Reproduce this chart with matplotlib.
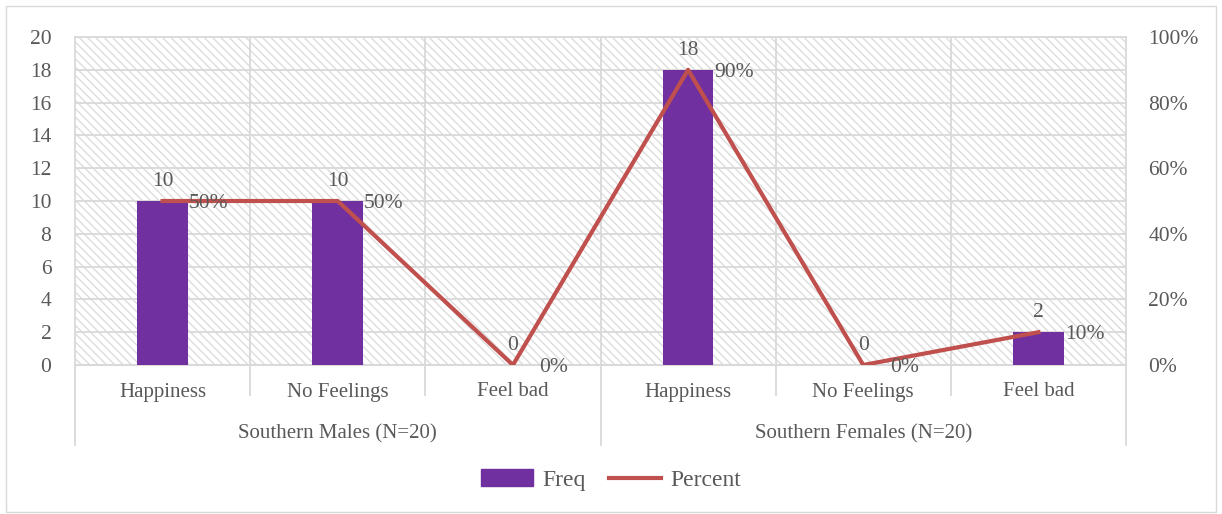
import matplotlib
matplotlib.use('Agg')
import matplotlib.pyplot as plt
import numpy as np
from matplotlib.patches import Rectangle
from matplotlib.lines import Line2D

# data
categories = ['Happiness', 'No Feelings', 'Feel bad', 'Happiness', 'No Feelings', 'Feel bad']
groups = ['Southern Males (N=20)', 'Southern Females (N=20)']
freq = [10, 10, 0, 18, 0, 2]
percent = [50, 50, 0, 90, 0, 10]

bar_color = '#7030A0'
line_color = '#C0504D'
txt = '#595959'
grid = '#d9d9d9'
fs = 15.5

plt.rcParams['font.family'] = ['Liberation Serif', 'DejaVu Serif']
plt.rcParams['hatch.linewidth'] = 1.0
plt.rcParams['hatch.color'] = '#dcdcdc'

fig = plt.figure(figsize=(12.22, 5.14), dpi=100)
fig.patches.append(Rectangle((0.005, 0.004), 0.99, 0.985, transform=fig.transFigure,
                             fill=False, edgecolor=grid, linewidth=1))
ax = fig.add_axes([75/1222, 1 - 365/514, (1126-75)/1222, (365-37)/514])
x = np.arange(len(categories))

# hatched background
ax.add_patch(Rectangle((0, 0), 1, 1, transform=ax.transAxes, facecolor='white',
                       hatch='\\\\\\\\', edgecolor='#dcdcdc', linewidth=0, zorder=0))

ax.bar(x, freq, width=0.29, color=bar_color, zorder=3, label='Freq')
ax.set_xlim(-0.5, len(categories) - 0.5)
ax.set_ylim(0, 20)
ax.set_yticks(range(0, 21, 2))
for y in range(2, 21, 2):
    ax.axhline(y, color=grid, linewidth=1.3, zorder=1)
for xb in np.arange(0.5, len(categories) - 0.5, 1):
    ax.axvline(xb, color=grid, linewidth=1.3, zorder=1)
ax.set_xticks([])
for s in ['top', 'right', 'left']:
    ax.spines[s].set_color(grid)
    ax.spines[s].set_linewidth(1.3)
ax.spines['bottom'].set_color(grid)
ax.spines['bottom'].set_linewidth(1.5)
ax.tick_params(axis='y', length=0, labelsize=fs, colors=txt, pad=17)

for xi, f in zip(x, freq):
    ax.annotate(str(f), (xi, f), xytext=(0, 7), textcoords='offset points',
                ha='center', va='bottom', fontsize=fs, color=txt, zorder=6)

ax2 = ax.twinx()
ax2.plot(x, percent, color=line_color, linewidth=3, zorder=5, label='Percent')
ax2.set_ylim(0, 100)
ax2.set_yticks(range(0, 101, 20))
ax2.set_yticklabels([f'{v}%' for v in range(0, 101, 20)])
ax2.tick_params(axis='y', length=0, labelsize=fs, colors=txt, pad=16)
for s in ax2.spines.values():
    s.set_visible(False)
for xi, p in zip(x, percent):
    ax2.annotate(f'{p}%', (xi, p), xytext=(19, -2), textcoords='offset points',
                 ha='left', va='center', fontsize=fs, color=txt, zorder=6)

# multi-level category axis
trans = ax.get_xaxis_transform()
for xi, c in zip(x, categories):
    ax.text(xi, -27/328, c, transform=trans, ha='center', va='center', fontsize=fs - 0.5, color=txt)
for gi, g in enumerate(groups):
    ax.text(gi * 3 + 1, -69/328, g, transform=trans, ha='center', va='center', fontsize=fs - 0.5, color=txt)
for xb in [0.5, 1.5, 3.5, 4.5]:
    ax.add_line(Line2D([xb, xb], [0, -30/328], transform=trans, color=grid, linewidth=1.3, clip_on=False))
for xb in [-0.5, 2.5, 5.5]:
    ax.add_line(Line2D([xb, xb], [0, -80/328], transform=trans, color=grid, linewidth=1.3, clip_on=False))

handles = [Rectangle((0, 0), 1, 1, color=bar_color), Line2D([0], [0], color=line_color, linewidth=3)]
leg = fig.legend(handles, ['Freq', 'Percent'], loc='center', bbox_to_anchor=(0.5, 1 - 480/514),
                 ncol=2, frameon=False, fontsize=17, handlelength=2.2, handleheight=0.7,
                 columnspacing=1.0, handletextpad=0.4)
for t in leg.get_texts():
    t.set_color(txt)

fig.savefig('out.png', dpi=100)
